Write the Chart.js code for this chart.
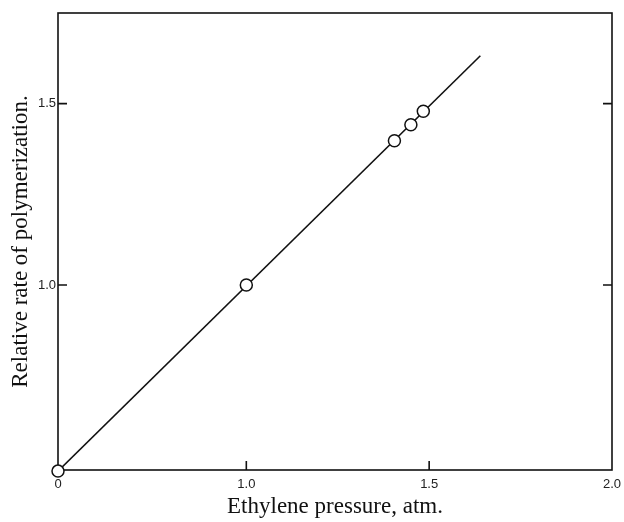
<!DOCTYPE html>
<html>
<head>
<meta charset="utf-8">
<script src="https://cdn.jsdelivr.net/npm/chart.js@4.4.0/dist/chart.umd.min.js"></script>
<style>
  html, body { margin: 0; padding: 0; background: #fff; }
  #wrap { width: 624px; height: 522px; }
</style>
</head>
<body>
<div id="wrap"><canvas id="chart" width="624" height="522"></canvas></div>
<script>
// Measured points (the origin of the plot is labelled "0")
const pressure = [0.485, 1.0, 1.405, 1.45, 1.484];
const rate = [0.487, 1.0, 1.398, 1.442, 1.479];

// Fitted line drawn through the points
const lineX = [0.485, 1.64];
const lineY = [0.487, 1.632];

// Axis ticks
const xTickValues = [0.485, 1.0, 1.5, 2.0];
const xTickLabels = ['0', '1.0', '1.5', '2.0'];
const yTickValues = [1.0, 1.5];
const yTickLabels = ['1.0', '1.5'];

const points = pressure.map((p, i) => ({ x: p, y: rate[i] }));
const linePts = lineX.map((p, i) => ({ x: p, y: lineY[i] }));

// frame around plot + little inward tick marks
const framePlugin = {
  id: 'frame',
  beforeDraw(chart) {
    const c = chart.ctx;
    c.save();
    c.fillStyle = '#fff';
    c.fillRect(0, 0, chart.width, chart.height);
    c.restore();
  },
  beforeDatasetsDraw(chart) {
    const { ctx, chartArea: a, scales } = chart;
    ctx.save();
    ctx.strokeStyle = '#111';
    ctx.lineWidth = 1.6;
    ctx.strokeRect(a.left, a.top, a.right - a.left, a.bottom - a.top);
    const len = 9;
    ctx.beginPath();
    [1.0, 1.5].forEach(v => {
      const px = scales.x.getPixelForValue(v);
      ctx.moveTo(px, a.bottom);
      ctx.lineTo(px, a.bottom - len);
    });
    yTickValues.forEach(v => {
      const py = scales.y.getPixelForValue(v);
      ctx.moveTo(a.left, py);
      ctx.lineTo(a.left + len, py);
      ctx.moveTo(a.right, py);
      ctx.lineTo(a.right - len, py);
    });
    ctx.stroke();
    ctx.restore();
  }
};

const ctx = document.getElementById('chart').getContext('2d');
const chart = new Chart(ctx, {
  type: 'scatter',
  data: {
    datasets: [
      {
        label: 'points',
        data: points,
        clip: false,
        pointRadius: 6,
        pointHoverRadius: 6,
        pointBackgroundColor: '#fff',
        pointBorderColor: '#111',
        pointBorderWidth: 1.5,
        order: 1
      },
      {
        type: 'line',
        label: 'fit',
        data: linePts,
        borderColor: '#111',
        borderWidth: 1.6,
        pointRadius: 0,
        fill: false,
        order: 2
      }
    ]
  },
  options: {
    responsive: false,
    animation: false,
    layout: { padding: { top: 13, right: 12, left: 0, bottom: 0 } },
    plugins: {
      legend: { display: false },
      tooltip: { enabled: false }
    },
    scales: {
      x: {
        type: 'linear',
        min: 0.485,
        max: 2.0,
        afterBuildTicks: scale => { scale.ticks = xTickValues.map(v => ({ value: v })); },
        afterFit: scale => {
          scale.height = 52;
          scale.paddingLeft = 0;
          scale.paddingRight = 0;
        },
        grid: { display: false, drawTicks: false },
        border: { display: false },
        ticks: {
          padding: 7,
          color: '#222',
          font: { family: 'Liberation Sans', size: 13 },
          callback: (value, index) => xTickLabels[index]
        },
        title: {
          display: true,
          text: 'Ethylene pressure, atm.',
          color: '#111',
          font: { family: 'Liberation Serif', size: 23 },
          padding: { top: 0, bottom: 1 }
        }
      },
      y: {
        type: 'linear',
        min: 0.49,
        max: 1.75,
        afterBuildTicks: scale => { scale.ticks = yTickValues.map(v => ({ value: v })); },
        afterFit: scale => { scale.width = 58; },
        grid: { display: false, drawTicks: false },
        border: { display: false },
        ticks: {
          padding: 2,
          color: '#222',
          font: { family: 'Liberation Sans', size: 13 },
          callback: (value, index) => yTickLabels[index]
        },
        title: {
          display: true,
          text: 'Relative rate of polymerization.',
          color: '#111',
          font: { family: 'Liberation Serif', size: 23 },
          padding: { top: 7, bottom: 0 }
        }
      }
    }
  },
  plugins: [framePlugin]
});
</script>
</body>
</html>
